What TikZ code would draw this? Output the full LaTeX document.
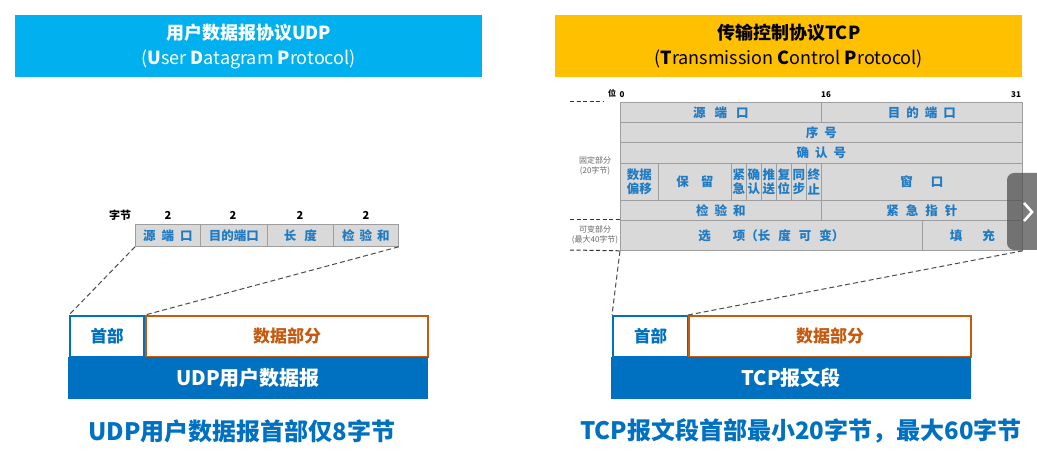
\documentclass[tikz,border=0pt]{standalone}
\usepackage{fontspec}
\setmainfont{Noto Sans CJK SC}
\definecolor{titleblue}{HTML}{00B0EF}
\definecolor{titleyellow}{HTML}{FFC000}
\definecolor{darkblue}{HTML}{0070C0}
\definecolor{dataorange}{HTML}{C55A11}
\definecolor{cellgray}{HTML}{D9D9D9}
\definecolor{cellborder}{HTML}{9E9E9E}
\definecolor{celltext}{HTML}{1F7BC4}
\definecolor{navgray}{HTML}{505050}
\newcommand{\mycell}[6]{\node[cell, minimum width=#4pt, minimum height=#5pt] (#1) at (#2,#3) {#6};}
\begin{document}
\begin{tikzpicture}[x=1pt,y=-1pt,
  cell/.style={draw=cellborder, fill=cellgray, line width=0.8pt, inner sep=0pt, anchor=north west,
    text=celltext, align=center, font=\bfseries\fontsize{12.5}{14}\selectfont},
  flag/.style={cell, font=\bfseries\fontsize{12.5}{14.5}\selectfont},
  titlebar/.style={inner sep=0pt, minimum width=467pt, minimum height=62pt, anchor=north west, align=center,
    font=\fontsize{18}{25}\selectfont},
  headbox/.style={draw=darkblue, line width=2pt, fill=white, inner sep=0pt, anchor=north west,
    text=darkblue, font=\bfseries\fontsize{16.5}{18}\selectfont},
  databox/.style={draw=dataorange, line width=2pt, fill=white, inner sep=0pt, anchor=north west,
    text=dataorange, font=\bfseries\fontsize{17}{18}\selectfont},
  bar/.style={fill=darkblue, inner sep=0pt, anchor=north west, text=white,
    font=\bfseries\fontsize{20}{22}\selectfont},
  caption/.style={text=darkblue, font=\bfseries\fontsize{24}{26}\selectfont},
  small/.style={font=\bfseries\fontsize{11}{12}\selectfont},
  tiny/.style={text=black!60, align=center, font=\fontsize{8}{10}\selectfont},
  zoomline/.style={dash pattern=on 5pt off 3pt, line width=1pt, black!70},
  sideline/.style={dash pattern=on 4pt off 2.5pt, line width=1pt, black!80}]
\useasboundingbox (0,0) rectangle (1037,470);

% ---------- titles ----------
\node[titlebar, fill=titleblue, text=white] (udptitle) at (15,15)
  {\textbf{用户数据报协议UDP}\\(\textbf{U}ser \textbf{D}atagram \textbf{P}rotocol)};
\node[titlebar, fill=titleyellow, text=black] (tcptitle) at (555,15)
  {\textbf{传输控制协议TCP}\\(\textbf{T}ransmission \textbf{C}ontrol \textbf{P}rotocol)};

% ---------- UDP header ----------
\node[small] (bytes) at (120,215) {字节};
\node[small] (b1) at (168,215) {2};
\node[small] (b2) at (233,215) {2};
\node[small] (b3) at (300,215) {2};
\node[small] (b4) at (366,215) {2};
\mycell{usrc}{135}{224}{65}{22}{源\hspace{6pt}端\hspace{6pt}口}
\mycell{udst}{200}{224}{67}{22}{目的端口}
\mycell{ulen}{267}{224}{66}{22}{长\hspace{8pt}度}
\mycell{uchk}{333}{224}{65}{22}{检\hspace{5pt}验\hspace{5pt}和}

\node[headbox, minimum width=74pt, minimum height=41pt] (uhead) at (69,315) {首部};
\node[databox, minimum width=282pt, minimum height=41pt] (udata) at (145,315) {数据部分};
\node[bar, minimum width=360pt, minimum height=42pt] (ubar) at (68,357) {UDP用户数据报};
\node[caption] (ucap) at (242,431) {UDP用户数据报首部仅8字节};

\draw[zoomline] (usrc.south west) -- (uhead.north west);
\draw[zoomline] (uchk.south east) -- (udata.north west);

% ---------- TCP header ----------
\node[font=\bfseries\fontsize{8}{9}\selectfont, anchor=south] (bitw) at (612,101) {位};
\node[font=\bfseries\fontsize{8}{9}\selectfont, anchor=south] (bit0) at (622,101) {0};
\node[font=\bfseries\fontsize{8}{9}\selectfont, anchor=south] (bit16) at (826,101) {16};
\node[font=\bfseries\fontsize{8}{9}\selectfont, anchor=south] (bit31) at (1016,101) {31};

\mycell{tsrc}{620}{102}{201}{20}{源\hspace{9pt}端\hspace{9pt}口}
\mycell{tdst}{821}{102}{201}{20}{目\hspace{6pt}的\hspace{6pt}端\hspace{6pt}口}
\mycell{tseq}{620}{122}{402}{20}{序\hspace{6pt}号}
\mycell{tack}{620}{142}{402}{21}{确\hspace{6pt}认\hspace{6pt}号}
\mycell{toff}{620}{163}{38}{37}{数据\\偏移}
\mycell{tres}{658}{163}{73}{37}{保\hspace{12pt}留}
\node[flag, minimum width=15pt, minimum height=37pt] (furg) at (731,163) {紧\\急};
\node[flag, minimum width=15pt, minimum height=37pt] (fack) at (746,163) {确\\认};
\node[flag, minimum width=15pt, minimum height=37pt] (fpsh) at (761,163) {推\\送};
\node[flag, minimum width=15pt, minimum height=37pt] (frst) at (776,163) {复\\位};
\node[flag, minimum width=15pt, minimum height=37pt] (fsyn) at (791,163) {同\\步};
\node[flag, minimum width=15pt, minimum height=37pt] (ffin) at (806,163) {终\\止};
\mycell{twin}{821}{163}{201}{37}{窗\hspace{18pt}口}
\mycell{tchk}{620}{200}{201}{20}{检\hspace{6pt}验\hspace{6pt}和}
\mycell{turg}{821}{200}{201}{20}{紧\hspace{7pt}急\hspace{7pt}指\hspace{7pt}针}
\mycell{topt}{620}{220}{302}{30}{选\hspace{22pt}项（长\hspace{8pt}度\hspace{8pt}可\hspace{8pt}变）}
\mycell{tpad}{922}{220}{100}{30}{填\hspace{20pt}充}

\coordinate (d1a) at (570,102);
\coordinate (d2a) at (570,220);
\coordinate (d3a) at (570,250);
\draw[sideline] (d1a) -- (tsrc.north west -| bitw.west);
\draw[sideline] (d2a) -- (topt.north west);
\draw[sideline] (d3a) -- (topt.south west);
\node[tiny] (fixed) at (595,166) {固定部分\\(20字节)};
\node[tiny] (var) at (595,235) {可变部分\\(最大40字节)};

\node[headbox, minimum width=75pt, minimum height=41pt] (thead) at (612,315) {首部};
\node[databox, minimum width=282pt, minimum height=41pt] (tdata) at (688,315) {数据部分};
\node[bar, minimum width=360pt, minimum height=42pt] (tbar) at (611,357) {TCP报文段};
\node[caption] (tcap) at (801,431) {TCP报文段首部最小20字节，最大60字节};

\draw[zoomline] (topt.south west) -- (thead.north west);
\draw[zoomline] (tpad.south east) -- (tdata.north west);

% ---------- slide navigation button ----------
\fill[navgray, opacity=0.75, rounded corners=7pt] (1007,173) rectangle (1050,250);
\draw[white, line width=2.6pt] (1024,203) -- (1032,212) -- (1024,221);
\end{tikzpicture}
\end{document}
